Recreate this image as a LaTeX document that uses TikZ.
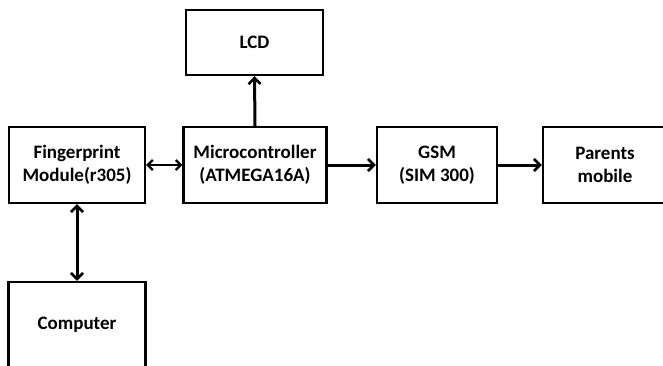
\documentclass[tikz,border=0pt]{standalone}
\usepackage{fontspec}
\setmainfont{Carlito}
\usetikzlibrary{arrows.meta}
\begin{document}
\begin{tikzpicture}[x=1pt,y=-1pt,
  txt/.style={font=\fontsize{19}{22.5}\selectfont\bfseries},
  blk/.style={draw=black,line width=2.4pt,fill=white,inner sep=0pt,align=center,txt},
  tip/.tip={Straight Barb[length=6pt,width=12pt,line width=2.6pt]},
  tipsm/.tip={Straight Barb[length=5pt,width=10pt,line width=2.2pt]},
  conn/.style={line width=3pt,-tip},
  conn2/.style={line width=3pt,tip-tip},
  conn3/.style={line width=2.4pt,tipsm-tipsm}]
\useasboundingbox (0,0) rectangle (663,365);
\node[blk,minimum width=136pt,minimum height=76pt] (fp) at (77,165) {Fingerprint\\Module(r305)};
\node[blk,minimum width=143pt,minimum height=76pt] (mc) at (255,165) {Microcontroller\\(ATMEGA16A)};
\node[blk,minimum width=120pt,minimum height=76pt] (gsm) at (437,165) {GSM\\(SIM 300)};
\node[blk,minimum width=124pt,minimum height=76pt] (par) at (605,165) {Parents\\mobile};
\node[blk,minimum width=137pt,minimum height=65pt] (lcd) at (254.5,42.5) {LCD};
\node[blk,minimum width=137pt,minimum height=88pt] (pc) at (77,326) {};
\node[txt] (pct) at (77,325) {Computer};
\draw[conn3] (fp.east) -- (mc.west);
\draw[conn] (mc.east) -- (gsm.west);
\draw[conn] (gsm.east) -- (par.west);
\draw[conn] (mc.north) -- (lcd.south);
\draw[conn2] (fp.south) -- (pc.north);
\end{tikzpicture}
\end{document}
